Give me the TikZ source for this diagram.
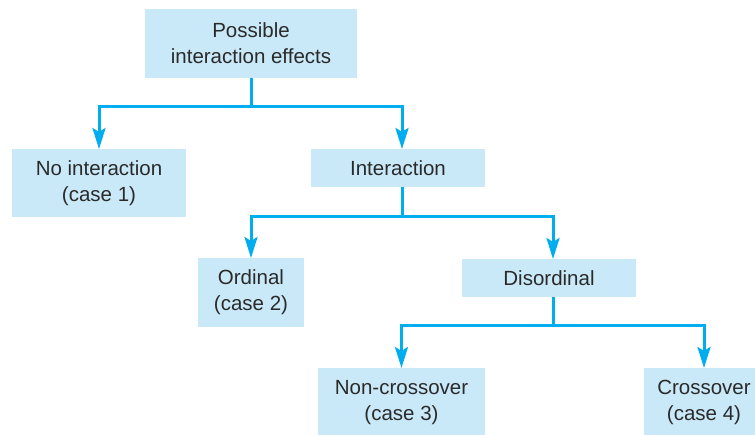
\documentclass[tikz,border=0pt]{standalone}
\usepackage{fontspec}
\setmainfont{Liberation Sans}
\usetikzlibrary{arrows.meta}
\definecolor{boxfill}{HTML}{C9E9F8}
\definecolor{linkblue}{HTML}{00ADEF}
\definecolor{inktext}{HTML}{2A2A2A}
\begin{document}
\begin{tikzpicture}[x=1pt,y=-1pt,inner sep=0pt,outer sep=0pt,
catbox/.style={fill=boxfill,rectangle,align=center,text=inktext,font=\fontsize{20.5}{26}\selectfont},
link/.style={draw=linkblue,line width=3pt,miter limit=10,-{Stealth[length=21pt,width=13pt,inset=4pt]}}]
\useasboundingbox (0,0) rectangle (755,435);
\draw (251,43.5) node[catbox,minimum width=212pt,minimum height=69pt] (possible) {Possible\\interaction effects};
\draw (99,183) node[catbox,minimum width=174pt,minimum height=68pt] (noint) {No interaction\\(case 1)};
\draw (398,168) node[catbox,minimum width=174pt,minimum height=38pt] (inter) {Interaction};
\draw (251,292.5) node[catbox,minimum width=106pt,minimum height=69pt] (ordinal) {Ordinal\\(case 2)};
\draw (549,278) node[catbox,minimum width=174pt,minimum height=38pt] (disord) {Disordinal};
\draw (401.5,402.5) node[catbox,minimum width=167pt,minimum height=69pt] (noncross) {Non-crossover\\(case 3)};
\draw (704,402.5) node[catbox,minimum width=120pt,minimum height=69pt] (cross) {Crossover\\(case 4)};
\draw[link] (possible.south) -- ++(0,29) -| (noint.north);
\draw[link] (possible.south) -- ++(0,29) -| ([xshift=4pt]inter.north);
\draw[link] ([xshift=4pt]inter.south) -- ++(0,30) -| (ordinal.north);
\draw[link] ([xshift=4pt]inter.south) -- ++(0,30) -| ([xshift=4pt]disord.north);
\draw[link] ([xshift=4pt]disord.south) -- ++(0,29) -| (noncross.north);
\draw[link] ([xshift=4pt]disord.south) -- ++(0,29) -| (cross.north);
\end{tikzpicture}
\end{document}
